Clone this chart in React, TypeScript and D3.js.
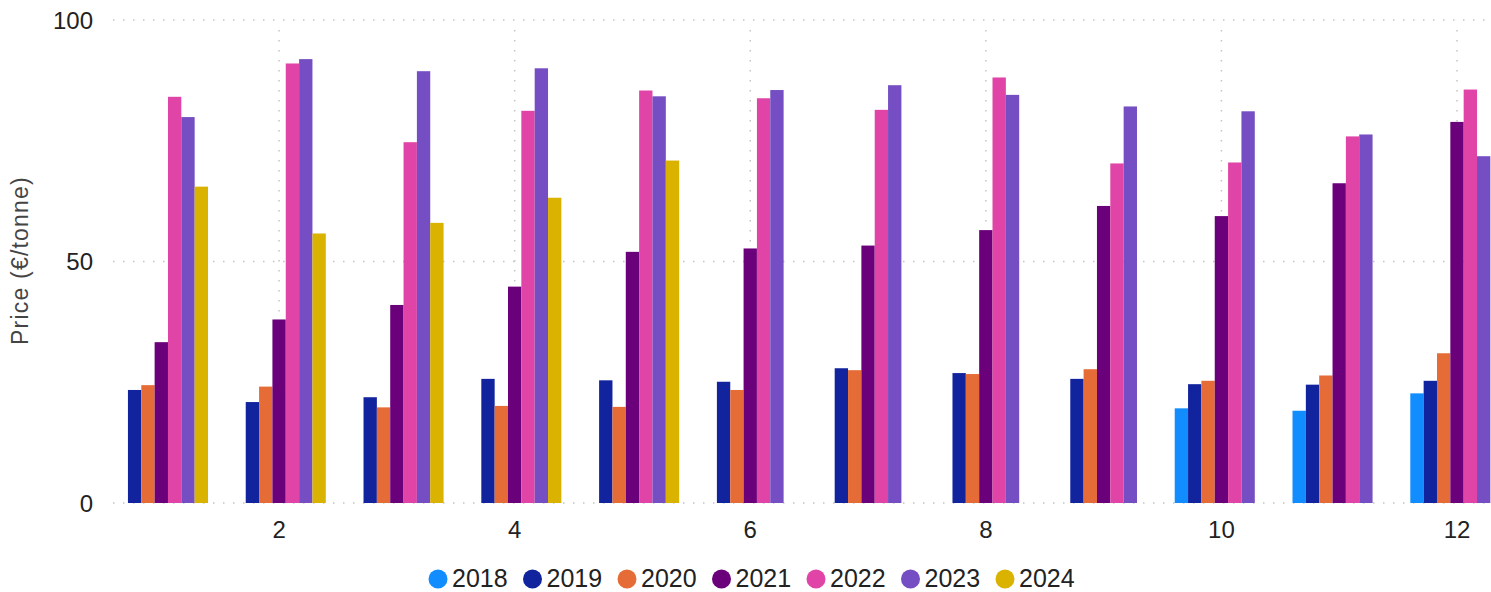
import React from "react";
import * as d3 from "d3";

const months = [1, 2, 3, 4, 5, 6, 7, 8, 9, 10, 11, 12];
const years = ["2018", "2019", "2020", "2021", "2022", "2023", "2024"];
const colors = ["#118DFF", "#12239E", "#E66C37", "#6B007B", "#E044A7", "#744EC2", "#D9B300"];

const v2018 = [null, null, null, null, null, null, null, null, null, 19.6, 19.1, 22.7];
const v2019 = [23.4, 20.9, 21.9, 25.7, 25.4, 25.1, 27.9, 26.9, 25.7, 24.6, 24.5, 25.3];
const v2020 = [24.4, 24.1, 19.8, 20.1, 19.9, 23.4, 27.5, 26.7, 27.7, 25.3, 26.4, 31.0];
const v2021 = [33.3, 38.0, 41.0, 44.8, 52.0, 52.7, 53.3, 56.5, 61.5, 59.4, 66.2, 78.9];
const v2022 = [84.1, 91.0, 74.7, 81.2, 85.4, 83.8, 81.4, 88.1, 70.3, 70.5, 75.9, 85.6];
const v2023 = [79.9, 91.9, 89.4, 90.0, 84.2, 85.5, 86.5, 84.5, 82.1, 81.1, 76.3, 71.8];
const v2024 = [65.5, 55.8, 58.0, 63.2, 70.9, null, null, null, null, null, null, null];

const series = [v2018, v2019, v2020, v2021, v2022, v2023, v2024];
const yTicks = [0, 50, 100];
const xTicks = [2, 4, 6, 8, 10, 12];

const W = 1491;
const H = 592;
const plotLeft = 113;
const plotRight = 1491;
const FONT = "'Liberation Sans', Arial, sans-serif";

export default function App() {
  const y = d3.scaleLinear().domain([0, 100]).range([503, 20]);
  const x = d3.scaleLinear().domain([1, 12]).range([161.3, 1457]);
  const inner = d3.scaleBand<string>().domain(years).range([-46.7, 46.7]).padding(0);

  return (
    <svg
      width={W}
      height={H}
      style={{ position: "absolute", left: 0, top: 0, background: "#fff" }}
      fontFamily={FONT}
    >
      <defs>
        <clipPath id="plotclip">
          <rect x={plotLeft} y={0} width={plotRight - plotLeft} height={H} />
        </clipPath>
      </defs>
      {/* horizontal gridlines */}
      {yTicks.map((t) => (
        <line
          key={"hg" + t}
          x1={plotLeft}
          x2={plotRight}
          y1={y(t)}
          y2={y(t)}
          stroke="#c4c4c4"
          strokeWidth={1.5}
          strokeDasharray="1.5,8.5"
        />
      ))}
      {/* vertical gridlines */}
      {xTicks.map((t) => (
        <line
          key={"vg" + t}
          x1={x(t)}
          x2={x(t)}
          y1={y(100) + 10}
          y2={y(0)}
          stroke="#c4c4c4"
          strokeWidth={1.5}
          strokeDasharray="1.5,8.5"
        />
      ))}
      {/* bars */}
      <g clipPath="url(#plotclip)">
        {series.map((vals, si) =>
          vals.map((v, mi) =>
            v == null ? null : (
              <rect
                key={years[si] + "-" + mi}
                x={x(months[mi]) + (inner(years[si]) as number)}
                y={y(v)}
                width={inner.bandwidth()}
                height={y(0) - y(v)}
                fill={colors[si]}
              />
            )
          )
        )}
      </g>
      {/* y tick labels */}
      {yTicks.map((t) => (
        <text
          key={"yt" + t}
          x={93}
          y={y(t)}
          dy="0.36em"
          textAnchor="end"
          fontSize={24}
          fill="#222"
        >
          {t}
        </text>
      ))}
      {/* x tick labels */}
      {xTicks.map((t) => (
        <text
          key={"xt" + t}
          x={x(t)}
          y={538}
          textAnchor="middle"
          fontSize={24}
          fill="#222"
        >
          {t}
        </text>
      ))}
      {/* y axis title */}
      <text
        transform={`translate(28, ${260.5}) rotate(-90)`}
        textAnchor="middle"
        fontSize={23}
        letterSpacing={1.2}
        fill="#444"
      >
        Price (€/tonne)
      </text>
      {/* legend */}
      {years.map((yr, i) => {
        const cx = 438 + i * 94.5;
        return (
          <g key={"lg" + yr}>
            <circle cx={cx} cy={579} r={9.5} fill={colors[i]} />
            <text x={cx + 14} y={587} fontSize={25} fill="#222">
              {yr}
            </text>
          </g>
        );
      })}
    </svg>
  );
}
